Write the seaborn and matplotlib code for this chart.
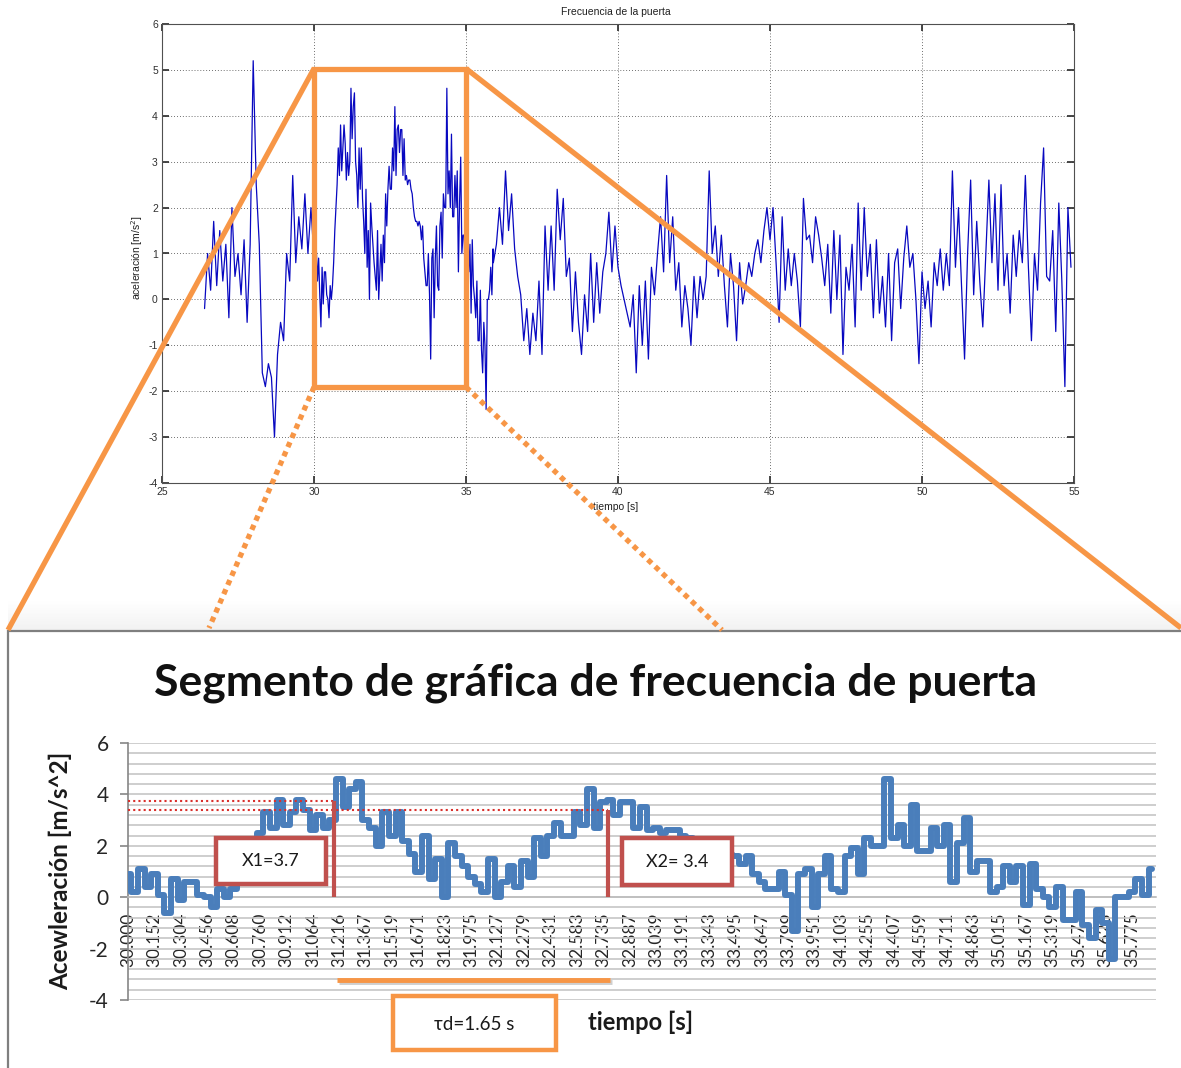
import numpy as np
import matplotlib
matplotlib.use("Agg")
import matplotlib.pyplot as plt
import seaborn as sns
from matplotlib.patches import Rectangle, ConnectionPatch
from matplotlib.ticker import MultipleLocator

# ---- data ----
# top (MATLAB) signal, sampled every 0.1 s before and after the zoomed segment
pre_start = 26.4
post_start = 35.9
top_step = 0.1
pre_vals = [-0.2, 1.0, 0.2, 1.7, 0.3, 1.5, 0.4, 1.2, -0.4, 2.0,
            0.5, 1.0, 0.1, 1.3, -0.5, 1.2, 5.2, 2.5, 1.2, -1.6,
            -1.9, -1.4, -1.7, -3.0, -1.2, -0.5, -0.9, 1.0, 0.4, 2.7,
            0.8, 1.8, 1.1, 2.3, 1.0, 2.0]
post_vals = [0.8,
             1.2, 2.0, 1.2, 2.8, 1.5, 2.3, 1.1, 0.5, 0.1, -0.9,
             -0.2, -1.2, -0.3, -0.9, 0.4, -1.2, 1.6, 0.2, 1.6, 0.2,
             2.4, 1.3, 2.2, 0.5, 0.9, -0.7, 0.6, -0.5, -1.2, 0.1,
             -0.7, 1.0, -0.5, 0.8, -0.3, 0.6, 1.0, 1.9, 0.6, 1.6,
             0.7, 0.3, 0.0, -0.3, -0.6, 0.1, -1.6, 0.3, -1.0, 0.4,
             -1.3, 0.7, 0.1, 1.0, 1.8, 0.6, 2.7, 0.8, 1.8, 0.2,
             0.8, -0.6, 0.3, -0.2, -1.0, 0.5, -0.4, 0.5, 0.0, 0.5,
             2.8, 1.0, 1.6, 0.5, 1.4, 0.3, -0.6, 1.0, 0.3, -0.9,
             0.8, -0.1, 0.3, 0.8, 0.5, 1.0, 1.3, 0.8, 1.5, 2.0,
             1.3, 2.0, 0.8, -0.5, 1.8, 0.2, 1.1, 0.3, 1.0, 0.4,
             -0.6, 2.2, 1.3, 1.4, 0.8, 1.8, 1.4, 0.9, 0.3, 1.2,
             -0.3, 1.5, 0.0, 1.4, -1.2, 0.7, 0.2, 1.2, -0.6, 2.1,
             0.2, 2.0, 0.5, 1.2, -0.4, 1.3, -0.3, 0.5, -0.6, 1.0,
             -0.9, 0.8, 1.1, -0.2, 0.9, 1.6, 0.7, 1.0, 0.0, -1.4,
             0.6, -0.2, 0.4, -0.6, 0.8, 0.3, 1.1, 0.2, 1.0, 0.3,
             2.8, 0.7, 2.0, 0.3, -1.3, 1.0, 2.6, 0.1, 1.7, 0.4,
             -0.6, 1.0, 2.6, 0.8, 2.3, 0.2, 2.5, 0.3, 1.0, -0.3,
             1.4, 0.5, 1.5, 0.8, 2.7, 0.7, -0.9, 1.0, 0.2, 2.1,
             3.3, 0.5, 0.4, 1.5, -0.7, 2.1, 0.4, -1.9, 2.0, 0.7]

# zoomed Excel segment (30 s .. 35.9 s), one value every 0.038 s
seg_start = 30.0
seg_step = 0.038
seg_vals = [0.9, 0.2, 1.1, 0.4, 0.9, 0.1, -0.6, 0.7, -0.1, 0.6,
            0.6, 0.1, 0.0, -0.4, 0.3, 0.0, 0.3, 0.8, 1.5, 2.0,
            2.5, 3.3, 2.7, 3.8, 2.8, 3.3, 3.8, 3.4, 2.6, 3.2,
            2.7, 3.0, 4.6, 3.5, 4.2, 4.5, 3.0, 2.7, 2.0, 3.3,
            2.4, 3.3, 2.2, 1.7, 1.0, 2.4, 0.7, 1.5, 0.0, 2.1,
            1.6, 1.2, 0.8, 0.5, 0.2, 1.5, 0.0, 0.6, 1.2, 0.4,
            1.4, 0.8, 2.3, 1.6, 2.4, 2.9, 2.4, 2.4, 3.3, 2.8,
            4.2, 2.7, 3.7, 3.8, 3.2, 3.7, 3.7, 2.7, 3.5, 2.6,
            2.7, 2.5, 2.6, 2.6, 2.4, 2.3, 2.0, 1.8, 1.7, 1.7,
            1.6, 1.7, 1.6, 1.3, 1.6, 0.9, 0.6, 0.3, 0.3, 1.0,
            0.1, -1.3, 0.9, 1.1, -0.4, 0.9, 1.6, 0.3, 0.2, 1.6,
            1.9, 0.9, 2.3, 2.0, 2.0, 4.6, 2.3, 2.8, 2.0, 3.6,
            1.8, 1.8, 2.7, 2.0, 2.8, 0.6, 2.1, 3.1, 1.0, 1.4,
            1.4, 0.2, 0.4, 1.2, 0.6, 1.2, -0.3, 1.3, 0.3, 0.0,
            -0.4, 0.4, -0.9, -0.9, 0.2, -1.1, -1.6, -0.5, -1.0, -2.4,
            0.0, 0.0, 0.2, 0.7, 0.1, 1.1]

seg_tick_labels = ["30.000", "30.152", "30.304", "30.456", "30.608", "30.760",
                   "30.912", "31.064", "31.216", "31.367", "31.519", "31.671",
                   "31.823", "31.975", "32.127", "32.279", "32.431", "32.583",
                   "32.735", "32.887", "33.039", "33.191", "33.343", "33.495",
                   "33.647", "33.799", "33.951", "34.103", "34.255", "34.407",
                   "34.559", "34.711", "34.863", "35.015", "35.167", "35.319",
                   "35.471", "35.623", "35.775"]

x1_time, x1_value = 31.185, 3.75
x2_time, x2_value = 32.76, 3.4
tau_start, tau_end = 31.203, 32.773

# ---- build time axes ----
t_pre = pre_start + top_step * np.arange(len(pre_vals))
t_post = post_start + top_step * np.arange(len(post_vals))
t_seg = seg_start + seg_step * np.arange(len(seg_vals))
t_all = np.concatenate([t_pre, t_seg, t_post])
v_all = np.concatenate([pre_vals, seg_vals, post_vals])

sns.set_theme(style="white")
plt.rcParams["font.family"] = ["Liberation Sans", "DejaVu Sans"]
plt.rcParams["axes.unicode_minus"] = False

W, H = 1181, 1068
fig = plt.figure(figsize=(W / 100, H / 100), dpi=100)


def fx(px):
    return px / W


def fy(py):
    return 1 - py / H


ORANGE = "#F79646"
RED = "#C0504D"
calibri = ["Lato", "DejaVu Sans"]

# ---- top MATLAB chart ----
ax1 = fig.add_axes([fx(162), fy(483), fx(1074) - fx(162), fy(24) - fy(483)])
sns.lineplot(x=t_all, y=v_all, ax=ax1, color="#0808c0", lw=0.9,
             estimator=None, sort=False)
ax1.set_xlim(25, 55)
ax1.set_ylim(-4, 6)
ax1.set_xticks(range(25, 56, 5))
ax1.set_yticks(range(-4, 7))
ax1.grid(True, ls=(0, (1, 2.5)), color="#404040", lw=0.6)
for s in ax1.spines.values():
    s.set_color("#505050")
    s.set_linewidth(0.8)
ax1.tick_params(direction="in", length=5, top=True, right=True, bottom=True, left=True,
                labelsize=7.5, colors="#303030", pad=3)
ax1.set_xlabel("")
ax1.set_ylabel("")
fig.text(fx(616), fy(12), "Frecuencia de la puerta", ha="center", va="center",
         fontsize=7.5, color="#202020")
fig.text(fx(616), fy(507), "tiempo [s]", ha="center", va="center",
         fontsize=7.5, color="#202020")
fig.text(fx(137), fy(258), "aceleración [m/s$^2$]", ha="center", va="center",
         rotation=90, fontsize=7.5, color="#202020")

# zoom box + connectors
ax1.add_patch(Rectangle((30, -1.91), 5, 6.94, fill=False, edgecolor=ORANGE,
                        lw=3.8, zorder=6, clip_on=False))
for xa, ya, xb, yb, style in [(30, 5.03, 8, 630, "-"), (35, 5.03, 1181, 628, "-"),
                              (30, -1.91, 209, 628, (0, (1, 0.9))),
                              (35, -1.91, 722, 630, (0, (1, 0.9)))]:
    con = ConnectionPatch(xyA=(xa, ya), coordsA=ax1.transData,
                          xyB=(fx(xb), fy(yb)), coordsB=fig.transFigure,
                          color=ORANGE, lw=3.8, linestyle=style, zorder=6)
    con.set_capstyle("butt")
    fig.add_artist(con)

# ---- lower panel (Excel chart) ----
ax_sh = fig.add_axes([fx(8), fy(631), 1 - fx(8), fy(600) - fy(631)], zorder=-2)
ax_sh.imshow(np.linspace(0, 1, 40).reshape(-1, 1), aspect="auto",
             cmap="Greys", vmin=0, vmax=9)
ax_sh.axis("off")

panel = Rectangle((fx(8), -0.01), 1.0, fy(631) + 0.01, transform=fig.transFigure,
                  facecolor="white", edgecolor="#7f7f7f", lw=1.6, zorder=-1)
fig.add_artist(panel)

ax2 = fig.add_axes([fx(128), fy(1000), fx(1156) - fx(128), fy(743) - fy(1000)])
ax2.patch.set_alpha(0)
sns.lineplot(x=t_seg, y=seg_vals, ax=ax2, color="#4A7EBB", lw=4.3,
             drawstyle="steps-mid", estimator=None, sort=False, zorder=3)
ax2.set_xlim(30, 35.914)
ax2.set_ylim(-4, 6)
ax2.set_yticks(range(-4, 7, 2))
ax2.yaxis.set_minor_locator(MultipleLocator(0.4))
ax2.grid(True, which="both", axis="y", color="#c6c6c6", lw=1.2)
ax2.grid(False, axis="x")
ax2.spines["top"].set_visible(False)
ax2.spines["right"].set_visible(False)
ax2.spines["left"].set_color("#868686")
ax2.spines["left"].set_linewidth(1.2)
ax2.spines["bottom"].set_position(("data", 0))
ax2.spines["bottom"].set_color("#bdbdbd")
ax2.spines["bottom"].set_linewidth(1.2)
ax2.set_xticks([float(s) for s in seg_tick_labels])
ax2.set_xticklabels(seg_tick_labels, rotation=90, fontsize=12.5, family=calibri)
ax2.tick_params(axis="x", length=0, pad=11, bottom=True)
ax2.tick_params(axis="y", which="major", length=6, width=1.2, color="#868686",
                direction="out", left=True, labelsize=15, pad=8)
ax2.tick_params(axis="y", which="minor", length=0)
for lab in ax2.get_yticklabels():
    lab.set_family(calibri)
ax2.set_xlabel("")
ax2.set_ylabel("")

# annotations
ax2.plot([30, x1_time], [x1_value, x1_value], color="#d9302c", lw=1.5,
         ls=(0, (1, 1.5)), zorder=4)
ax2.plot([30, x2_time], [x2_value, x2_value], color="#d9302c", lw=1.5,
         ls=(0, (1, 1.5)), zorder=4)
ax2.plot([x1_time, x1_time], [0, x1_value], color=RED, lw=3, zorder=5,
         solid_capstyle="butt")
ax2.plot([x2_time, x2_time], [0, x2_value], color=RED, lw=3, zorder=5,
         solid_capstyle="butt")
for x0, y0, txt in [(30.506, 0.51, "X1=3.7"), (32.842, 0.47, "X2= 3.4")]:
    ax2.add_patch(Rectangle((x0, y0), 0.633, 2.30 - y0, facecolor="white",
                            edgecolor=RED, lw=3.2, zorder=6))
    ax2.text(x0 + 0.3165, (y0 + 2.30) / 2, txt, ha="center", va="center",
             fontsize=13, family=calibri, color="#1a1a1a", zorder=7)
ax2.plot([tau_start + 0.01, tau_end + 0.01], [-3.29, -3.29], color="#b0b0b0",
         lw=3.5, solid_capstyle="butt", clip_on=False, zorder=4, alpha=0.6)
ax2.plot([tau_start, tau_end], [-3.23, -3.23], color=ORANGE, lw=3.5,
         solid_capstyle="butt", clip_on=False, zorder=5)

fig.add_artist(Rectangle((fx(393), fy(1050)), fx(556) - fx(393), fy(996) - fy(1050),
                         transform=fig.transFigure, facecolor="white",
                         edgecolor=ORANGE, lw=3.2, zorder=3))
fig.text(fx(474), fy(1024), "τd=1.65 s", ha="center", va="center",
         fontsize=13.5, family=calibri, color="#1a1a1a", zorder=4)
fig.text(fx(641), fy(1022), "tiempo [s]", ha="center", va="center",
         fontsize=17, fontweight="bold", family=calibri, color="#1a1a1a")
fig.text(fx(60), fy(871), "Acewleración [m/s^2]", ha="center", va="center",
         rotation=90, fontsize=17.5, fontweight="bold", family=calibri, color="#1a1a1a")
fig.text(fx(596), fy(683), "Segmento de gráfica de frecuencia de puerta",
         ha="center", va="center", fontsize=32, fontweight="bold",
         family=calibri, color="#111111")

fig.savefig("out.png", dpi=100)
